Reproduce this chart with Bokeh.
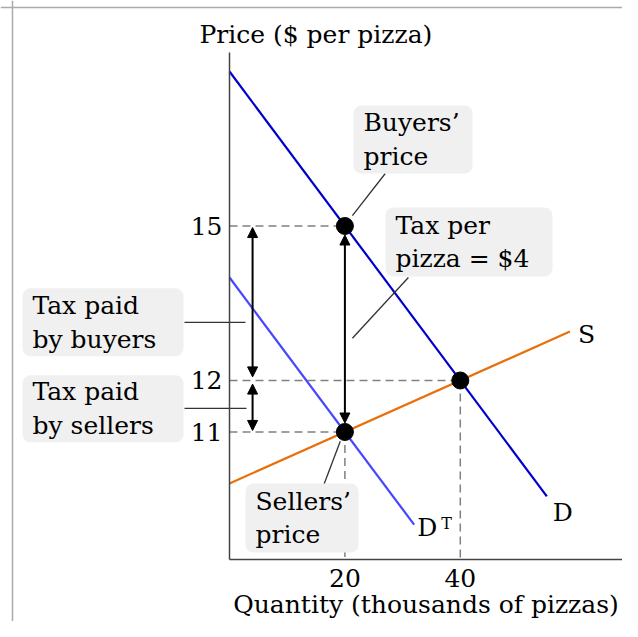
from bokeh.plotting import figure
from bokeh.models import Range1d, FixedTicker, Arrow, NormalHead, Span, LinearAxis
from bokeh.core.properties import value
from bokeh.embed import file_html
from bokeh.resources import INLINE

# ---------------- data ----------------
price_ticks = [11, 12, 15]
qty_ticks = [20, 40]
demand_q = [0, 55]
demand_p = [18, 9.75]
taxed_q = [0, 32]
taxed_p = [14, 9.2]
supply_q = [0, 59]
supply_p = [10, 12.95]
point_q = [20, 20, 40]
point_p = [15, 11, 12]
tax_per_pizza = 4

box_texts = ["Buyers’\nprice", "Tax per\npizza = $%d" % tax_per_pizza, "Tax paid\nby buyers",
             "Tax paid\nby sellers", "Sellers’\nprice"]

# ---------------- layout (annotation placement) ----------------
X0, X1 = -39.688, 68.111
Y0, Y1 = 7.320, 19.379
AX_Q_END = 69.5
AX_P_LOW, AX_P_HIGH = 8.52, 18.37
box_left = [21.49, 27.04, -35.88, -35.88, 2.77]
box_right = [42.11, 55.98, -7.97, -7.97, 22.36]
box_top = [17.34, 15.36, 13.79, 12.10, 10.00]
box_bottom = [16.02, 14.02, 12.47, 10.80, 8.66]
lead_x0 = [27.0, 31.0, -7.8, -7.8, 16.3]
lead_y0 = [16.02, 14.0, 13.13, 11.46, 9.96]
lead_x1 = [21.3, 21.3, 2.77, 2.95, 19.2]
lead_y1 = [15.2, 12.82, 13.13, 11.46, 10.82]
side_arrow_q = 4.0

FONT = value("DejaVu Serif")
FS = "25px"

p = figure(width=622, height=621, x_range=Range1d(X0, X1), y_range=Range1d(Y0, Y1),
           output_backend="svg", toolbar_location=None, min_border=0,
           x_axis_type=None, y_axis_type=None)
p.outline_line_color = None
p.background_fill_color = "white"
p.border_fill_color = "white"

# outer frame (decoration)
p.add_layout(Span(location=-37.61, dimension="height", line_color="#aaaaaa", line_width=1.5))
p.add_layout(Span(location=19.243, dimension="width", line_color="#aaaaaa", line_width=1.5))

# axes
xaxis = LinearAxis(ticker=FixedTicker(ticks=qty_ticks), fixed_location=AX_P_LOW,
                   bounds=(0, AX_Q_END), axis_label="Quantity (thousands of pizzas)")
yaxis = LinearAxis(ticker=FixedTicker(ticks=price_ticks), fixed_location=0,
                   bounds=(AX_P_LOW, AX_P_HIGH))
for ax in (xaxis, yaxis):
    ax.axis_line_color = "#444444"
    ax.axis_line_width = 1.5
    ax.major_tick_line_color = None
    ax.minor_tick_line_color = None
    ax.major_tick_out = 0
    ax.major_tick_in = 0
    ax.major_label_text_font = "DejaVu Serif"
    ax.major_label_text_font_size = FS
    ax.major_label_text_color = "black"
    ax.axis_label_text_font = "DejaVu Serif"
    ax.axis_label_text_font_size = FS
    ax.axis_label_text_font_style = "normal"
    ax.axis_label_text_color = "black"
xaxis.major_label_standoff = 9
xaxis.axis_label_standoff = 0
yaxis.major_label_standoff = 7
p.add_layout(xaxis, "below")
p.add_layout(yaxis, "left")

p.text(x=[-5.2], y=[18.72], text=["Price ($ per pizza)"], text_font=FONT, text_font_size=FS,
       text_align="left", text_baseline="middle", text_color="black")

# dashed guides
hq0 = [0 for _ in point_q]
p.segment(x0=hq0, y0=point_p, x1=point_q, y1=point_p, line_color="#808080",
          line_width=1.5, line_dash="8 5")
p.segment(x0=[point_q[1], point_q[2]], y0=[point_p[1], point_p[2]],
          x1=[point_q[1], point_q[2]], y1=[AX_P_LOW, AX_P_LOW],
          line_color="#808080", line_width=1.5, line_dash="8 5")

# curves
p.line(supply_q, supply_p, line_color="#e8700a", line_width=2.2)
p.line(taxed_q, taxed_p, line_color="#4646ff", line_width=2.2)
p.line(demand_q, demand_p, line_color="#0000cc", line_width=2.2)

# boxes and leaders
p.segment(x0=lead_x0, y0=lead_y0, x1=lead_x1, y1=lead_y1, line_color="#333333", line_width=1.3)
p.quad(left=box_left, right=box_right, top=box_top, bottom=box_bottom,
       fill_color="#f0f0f0", line_color=None, border_radius=8)
tx = [l + 10 / 5.77 for l in box_left]
ty = [(t + b) / 2 for t, b in zip(box_top, box_bottom)]
p.text(x=tx, y=ty, text=box_texts, text_font=FONT, text_font_size=FS, text_align="left",
       text_baseline="middle", text_line_height=1.16, text_color="black")

# arrows
def head():
    return NormalHead(size=10, fill_color="black", line_color="black")

gap = 9 / 51.5
p.add_layout(Arrow(start=head(), end=head(), x_start=point_q[0], y_start=point_p[0] - gap,
                   x_end=point_q[1], y_end=point_p[1] + gap, line_width=2, line_color="black"))
eq_p = point_p[2]
p.add_layout(Arrow(start=head(), end=head(), x_start=side_arrow_q, y_start=point_p[0] - 0.03,
                   x_end=side_arrow_q, y_end=eq_p + 0.07, line_width=2, line_color="black"))
p.add_layout(Arrow(start=head(), end=head(), x_start=side_arrow_q, y_start=eq_p - 0.07,
                   x_end=side_arrow_q, y_end=point_p[1] + 0.03, line_width=2, line_color="black"))

# points
p.scatter(point_q, point_p, size=17, color="black")

# curve labels
p.text(x=[supply_q[1]], y=[supply_p[1]], text=["S"], text_font=FONT, text_font_size=FS,
       text_baseline="middle", x_offset=8, y_offset=3, text_color="black")
p.text(x=[demand_q[1]], y=[demand_p[1]], text=["D"], text_font=FONT, text_font_size=FS,
       text_baseline="middle", x_offset=6, y_offset=16, text_color="black")
p.text(x=[taxed_q[1]], y=[taxed_p[1]], text=["D"], text_font=FONT, text_font_size=FS,
       text_baseline="middle", x_offset=3, y_offset=3, text_color="black")
p.text(x=[taxed_q[1]], y=[taxed_p[1]], text=["T"], text_font=FONT, text_font_size="16px",
       text_baseline="middle", x_offset=27, y_offset=-1, text_color="black")

open("out.html", "w").write(file_html(p, INLINE))
